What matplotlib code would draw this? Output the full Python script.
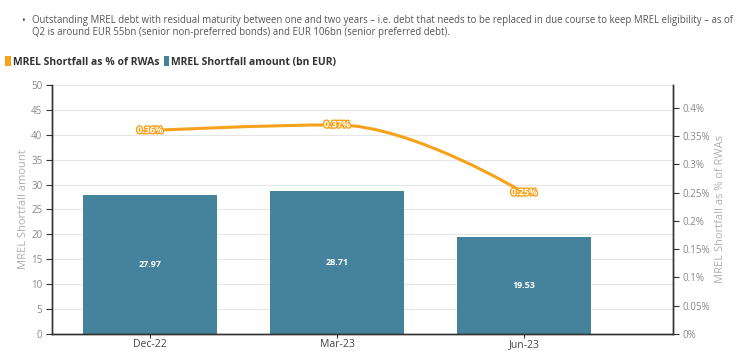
import matplotlib
matplotlib.use("Agg")
import matplotlib.pyplot as plt
from matplotlib.path import Path
from matplotlib.patches import PathPatch, Patch
import matplotlib.patheffects as pe
from matplotlib.ticker import FuncFormatter

categories = ['Dec-22', 'Mar-23', 'Jun-23']
shortfall_amount = [27.97, 28.71, 19.53]
shortfall_pct = [0.36, 0.37, 0.25]
note = ("Outstanding MREL debt with residual maturity between one and two years \u2013 i.e. debt that needs to be replaced in due course to keep MREL eligibility \u2013 as of\n"
        "Q2 is around EUR 55bn (senior non-preferred bonds) and EUR 106bn (senior preferred debt).")

BAR = '#45829b'
LINE = '#f7a21b'
plt.rcParams['font.family'] = ['Open Sans', 'DejaVu Sans']


def spline_path(xs, ys, smoothing=1.5):
    # highcharts-like spline: bezier control points per point
    n = len(xs)
    left = [None] * n
    right = [None] * n
    for i in range(1, n - 1):
        d = smoothing + 1
        lx = (smoothing * xs[i] + xs[i - 1]) / d
        ly = (smoothing * ys[i] + ys[i - 1]) / d
        rx = (smoothing * xs[i] + xs[i + 1]) / d
        ry = (smoothing * ys[i] + ys[i + 1]) / d
        corr = (ry - ly) * (rx - xs[i]) / (rx - lx) + ys[i] - ry
        ly += corr
        ry += corr
        if ly > ys[i - 1] and ly > ys[i]:
            ly = max(ys[i - 1], ys[i]); ry = 2 * ys[i] - ly
        elif ly < ys[i - 1] and ly < ys[i]:
            ly = min(ys[i - 1], ys[i]); ry = 2 * ys[i] - ly
        if ry > ys[i + 1] and ry > ys[i]:
            ry = max(ys[i + 1], ys[i]); ly = 2 * ys[i] - ry
        elif ry < ys[i + 1] and ry < ys[i]:
            ry = min(ys[i + 1], ys[i]); ly = 2 * ys[i] - ry
        left[i] = (lx, ly)
        right[i] = (rx, ry)
    verts = [(xs[0], ys[0])]
    codes = [Path.MOVETO]
    for i in range(1, n):
        c1 = right[i - 1] or (xs[i - 1], ys[i - 1])
        c2 = left[i] or (xs[i], ys[i])
        verts += [c1, c2, (xs[i], ys[i])]
        codes += [Path.CURVE4] * 3
    return Path(verts, codes)


fig = plt.figure(figsize=(7.4, 3.51), dpi=100)
ax = fig.add_axes([0.0703, 0.0484, 0.8392, 0.7096])
ax2 = ax.twinx()

x = list(range(len(categories)))
ax.bar(x, shortfall_amount, width=0.72, color=BAR, zorder=2)
for xi, v in zip(x, shortfall_amount):
    ax.text(xi, v / 2, f'{v:.2f}', ha='center', va='center', color='white',
            fontsize=6.5, fontweight='bold', zorder=3)

ax.set_xlim(-0.524, 2.797)
ax.set_ylim(0, 50)
ax.set_yticks(range(0, 51, 5))
ax.set_xticks(x)
ax.set_xticklabels(categories)
ax.yaxis.grid(True, color='#e6e6e6', linewidth=0.8, zorder=0)
ax.set_axisbelow(True)
ax.set_ylabel('MREL Shortfall amount', color='#b0b0b0', fontsize=8, labelpad=1.5)

ax2.set_ylim(0, 0.4407)
ax2.set_yticks([0, 0.05, 0.1, 0.15, 0.2, 0.25, 0.3, 0.35, 0.4])
ax2.yaxis.set_major_formatter(FuncFormatter(lambda v, p: f'{v:g}%'))
ax2.set_ylabel('MREL Shortfall as % of RWAs', color='#b0b0b0', fontsize=8, labelpad=3)

ax2.add_patch(PathPatch(spline_path(x, shortfall_pct), facecolor='none',
                        edgecolor=LINE, linewidth=2.2, zorder=4))
for xi, v in zip(x, shortfall_pct):
    ax2.text(xi, v, f'{v:.2f}%', ha='center', va='center', color='white',
             fontsize=6.5, fontweight='bold', zorder=5,
             path_effects=[pe.withStroke(linewidth=2, foreground=LINE)])

for a in (ax, ax2):
    a.spines['top'].set_visible(False)
    for s in ('left', 'right', 'bottom'):
        a.spines[s].set_color('#333333')
        a.spines[s].set_linewidth(1.0)
ax.tick_params(axis='y', colors='#333333', labelcolor='#888888', labelsize=7, length=4, width=0.8, pad=3)
ax2.tick_params(axis='y', colors='#333333', labelcolor='#888888', labelsize=7, length=4, width=0.8, pad=3)
ax.tick_params(axis='x', colors='#333333', labelcolor='#444444', labelsize=7.5, length=3, width=0.8, pad=0.5)

fig.text(0.029, 0.938, '\u2022', fontsize=7, color='#555555', va='center')
fig.text(0.043, 0.925, note, fontsize=6.9, color='#555555', va='center', linespacing=1.05)

handles = [Patch(facecolor=LINE), Patch(facecolor=BAR)]
fig.legend(handles, ['MREL Shortfall as % of RWAs', 'MREL Shortfall amount (bn EUR)'],
           loc='center left', bbox_to_anchor=(0.004, 0.823), ncol=2, frameon=False,
           handlelength=0.55, handleheight=1.1, handletextpad=0.2, columnspacing=0.4,
           borderaxespad=0, borderpad=0.2,
           prop={'size': 7.5, 'weight': 'bold'}, labelcolor='#333333')

fig.savefig('out.png', dpi=100)
